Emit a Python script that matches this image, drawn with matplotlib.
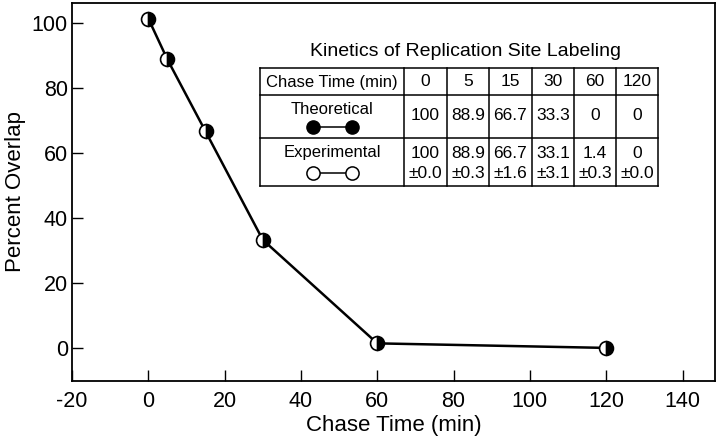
import matplotlib
matplotlib.use("Agg")
import matplotlib.pyplot as plt
from matplotlib.lines import Line2D

plt.rcParams['font.family'] = ['Liberation Sans', 'DejaVu Sans']
plt.rcParams['axes.unicode_minus'] = False

chase_time = [0, 5, 15, 30, 60, 120]
overlap = [101.5, 88.9, 66.7, 33.3, 1.4, 0]

table_title = "Kinetics of Replication Site Labeling"
col_header = ["Chase Time (min)", "0", "5", "15", "30", "60", "120"]
theoretical = ["100", "88.9", "66.7", "33.3", "0", "0"]
experimental_mean = ["100", "88.9", "66.7", "33.1", "1.4", "0"]
experimental_err = ["±0.0", "±0.3", "±1.6", "±3.1", "±0.3", "±0.0"]
xticks = [-20, 0, 20, 40, 60, 80, 100, 120, 140]
yticks = [0, 20, 40, 60, 80, 100]

W, H = 720, 444
fig = plt.figure(figsize=(W / 100, H / 100), dpi=100)
ax = fig.add_axes([72 / W, 63 / H, 643 / W, 378 / H])

ax.plot(chase_time, overlap, color='black', lw=1.8, marker='o', ms=10,
        fillstyle='right', markerfacecolor='black', markerfacecoloralt='white',
        markeredgecolor='black', markeredgewidth=1.2, zorder=3)

ax.set_xlim(-20, 148.5)
ax.set_ylim(-10.2, 106.3)
ax.set_xticks(xticks)
ax.set_yticks(yticks)
ax.tick_params(direction='in', length=8, width=1, labelsize=15.5)
ax.tick_params(axis='x', pad=7)
ax.tick_params(axis='y', pad=3)
for s in ax.spines.values():
    s.set_linewidth(1.3)
ax.set_xlabel("Chase Time (min)", fontsize=16, labelpad=2)
ax.set_ylabel("Percent Overlap", fontsize=16)
ax.yaxis.set_label_coords((16 - 72) / 643, 0.5)
ax.yaxis.label.set_va('center')


def P(x, y):
    return (x / W, 1 - y / H)


def text(x, y, s, size=12.5, **kw):
    fig.text(*P(x, y), s, fontsize=size, ha='center', va='center', **kw)


def line(x0, y0, x1, y1, lw=1.1, **kw):
    a = P(x0, y0)
    b = P(x1, y1)
    fig.add_artist(Line2D([a[0], b[0]], [a[1], b[1]], transform=fig.transFigure,
                          color='black', lw=lw, **kw))


text(465, 52, table_title, size=14)

xs = [260, 404, 447, 489, 532, 574, 616, 658]
ys = [68, 95, 138, 186]
for x in xs:
    line(x, ys[0], x, ys[-1])
for y in ys:
    line(xs[0], y, xs[-1], y)

# header row
text((xs[0] + xs[1]) / 2, 82, col_header[0], size=12)
for i, s in enumerate(col_header[1:]):
    text((xs[i + 1] + xs[i + 2]) / 2, 82, s)

# theoretical row
text(332, 109, "Theoretical", size=12)
line(313, 127, 352, 127, lw=1.1)
for xx in (313, 352):
    a = P(xx, 127)
    fig.add_artist(Line2D([a[0]], [a[1]], transform=fig.transFigure, marker='o',
                          ms=9.5, color='black', markerfacecolor='black'))
for i, s in enumerate(theoretical):
    text((xs[i + 1] + xs[i + 2]) / 2, 116, s)

# experimental row
text(332, 153, "Experimental", size=12)
line(313, 173, 352, 173, lw=1.1)
for xx in (313, 352):
    a = P(xx, 173)
    fig.add_artist(Line2D([a[0]], [a[1]], transform=fig.transFigure, marker='o',
                          ms=9.5, color='black', markerfacecolor='white', markeredgewidth=1.1))
for i, (m, e) in enumerate(zip(experimental_mean, experimental_err)):
    cx = (xs[i + 1] + xs[i + 2]) / 2
    text(cx, 154, m)
    text(cx, 173, e)

fig.savefig("out.png", dpi=100)
